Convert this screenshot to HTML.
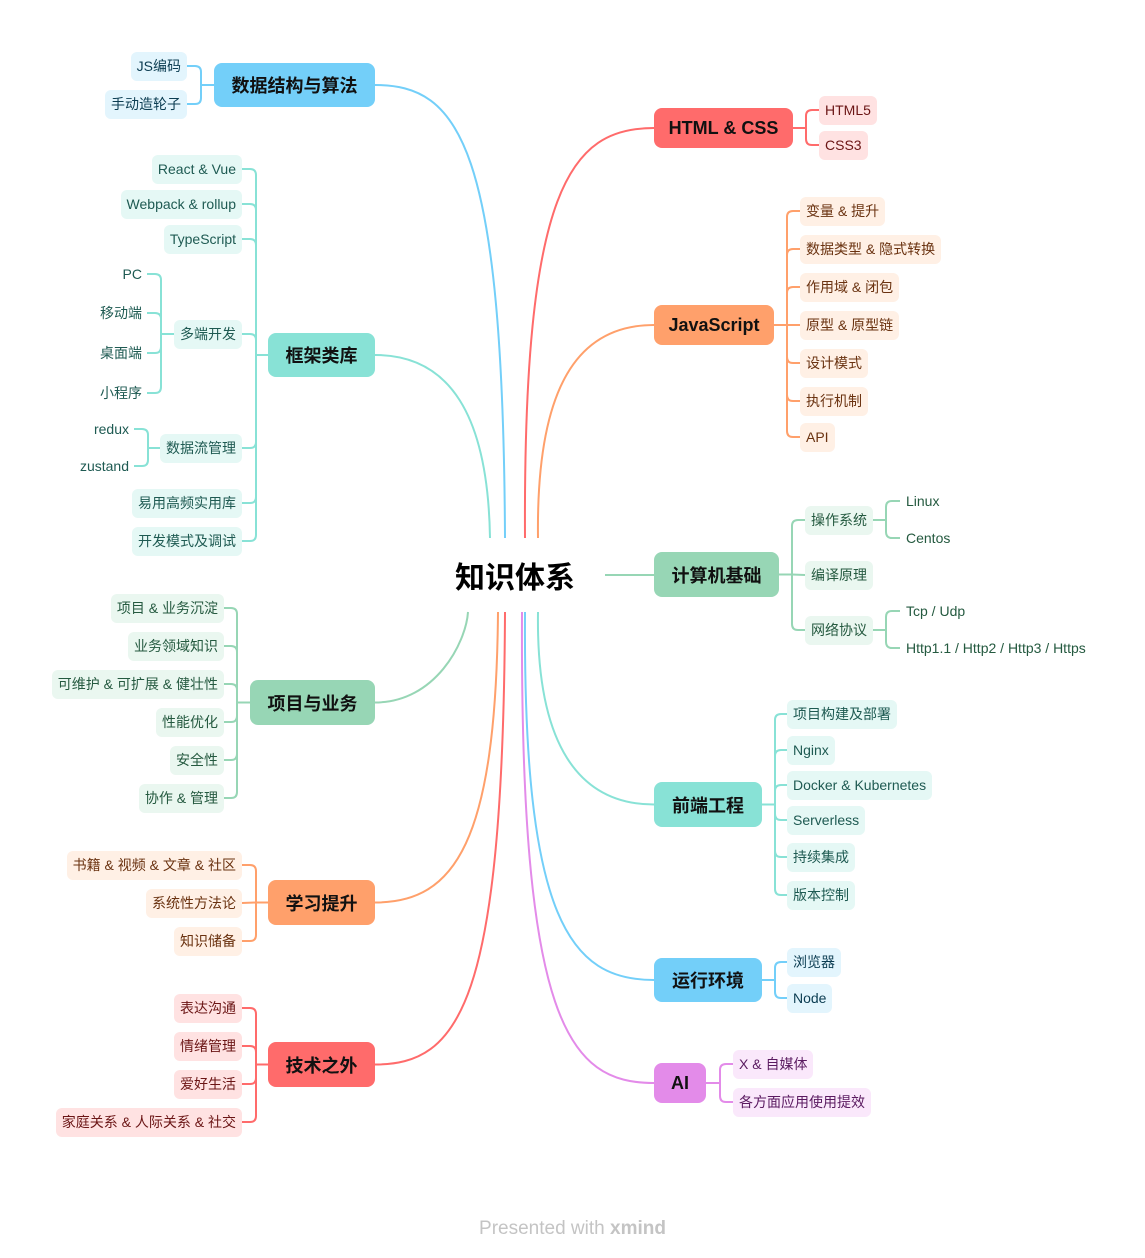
<!DOCTYPE html>
<html><head><meta charset="utf-8"><style>
body{margin:0;background:#fff;width:1145px;height:1258px;position:relative;overflow:hidden;font-family:"Liberation Sans","Noto Sans CJK SC",sans-serif}
svg{position:absolute;left:0;top:0}
.n{position:absolute;box-sizing:border-box;border-radius:8px;font-weight:bold;font-size:18px;color:#111;display:flex;align-items:center;justify-content:center;white-space:nowrap}
.c{position:absolute;box-sizing:border-box;height:29px;line-height:29px;border-radius:6px;padding:0 6px;font-size:14px;white-space:nowrap}
.t{position:absolute;font-size:14px;line-height:20px;white-space:nowrap}
</style></head><body>
<svg id="s" width="1145" height="1258"></svg>
<div style="position:absolute;left:415px;top:553px;width:200px;text-align:center;font-size:30px;font-weight:bold;color:#000;font-family:'Noto Sans CJK SC',sans-serif">知识体系</div>
<div style="position:absolute;left:0;width:1145px;top:1218px;text-align:center;font-size:19px;color:#c4c4c4">Presented with <b>xmind</b></div>
<script>
const C={blue:['#73cff9','#e3f5fd','#0c3d52'],teal:['#88e2d6','#e5f8f5','#1e5a52'],green:['#97d6b5','#eaf7f0','#255a40'],orange:['#ffa06b','#fff0e5','#6a3210'],red:['#ff6b6b','#ffe2e2','#6b1515'],purple:['#e38be9','#fae8fb','#5a1a60']};
const svg=document.getElementById('s');let P='';
function path(d,col){P+=`<path d="${d}" fill="none" stroke="${col}" stroke-width="2"/>`;}
function div(cls,st,txt){const e=document.createElement('div');e.className=cls;e.style.cssText=st;e.textContent=txt;document.body.appendChild(e);return e;}
function elbows(xb,pcy,items,dir,col){ // dir -1 left children, +1 right
 items.forEach(([cy,ex])=>{const r=Math.min(6,Math.abs(cy-pcy));
  if(Math.abs(cy-pcy)<1){path(`M${xb},${pcy} L${ex},${cy}`,col);return;}
  const s=cy>pcy?1:-1;
  path(`M${xb},${pcy} L${xb},${cy-s*r} Q${xb},${cy} ${xb+dir*r},${cy} L${ex},${cy}`,col);});
}
// main nodes: [text,x,y,w,h,color,side,children,bx,cx, start]
const M=[
['数据结构与算法',214,63,161,44,'blue','L',[['JS编码',66],['手动造轮子',104]],201,187,[505,538]],
['框架类库',268,333,107,44,'teal','L',[['React & Vue',169],['Webpack & rollup',204],['TypeScript',239],['多端开发',334,{b:161,ex:147,k:[['PC',274],['移动端',313],['桌面端',353],['小程序',393]]}],['数据流管理',448,{b:148,ex:134,k:[['redux',429],['zustand',466]]}],['易用高频实用库',503],['开发模式及调试',541]],256,242,[490,538]],
['项目与业务',250,680,125,45,'green','L',[['项目 & 业务沉淀',608],['业务领域知识',646],['可维护 & 可扩展 & 健壮性',684],['性能优化',722],['安全性',760],['协作 & 管理',798]],237,224,[468,612]],
['学习提升',268,880,107,45,'orange','L',[['书籍 & 视频 & 文章 & 社区',865],['系统性方法论',903],['知识储备',941]],256,242,[498,612]],
['技术之外',268,1042,107,45,'red','L',[['表达沟通',1008],['情绪管理',1046],['爱好生活',1084],['家庭关系 & 人际关系 & 社交',1122]],256,242,[505,612]],
['HTML & CSS',654,108,139,40,'red','R',[['HTML5',110],['CSS3',145]],806,819,[525,538]],
['JavaScript',654,305,120,40,'orange','R',[['变量 & 提升',211],['数据类型 & 隐式转换',249],['作用域 & 闭包',287],['原型 & 原型链',325],['设计模式',363],['执行机制',401],['API',437]],787,800,[538,538]],
['计算机基础',654,552,125,45,'green','R',[['操作系统',520,{b:886,ex:874,tx:906,k:[['Linux',501],['Centos',538]]}],['编译原理',575],['网络协议',630,{b:886,ex:874,tx:906,k:[['Tcp / Udp',611],['Http1.1 / Http2 / Http3 / Https',648]]}]],792,805,null],
['前端工程',654,782,108,45,'teal','R',[['项目构建及部署',714],['Nginx',750],['Docker & Kubernetes',785],['Serverless',820],['持续集成',857],['版本控制',895]],775,787,[538,612]],
['运行环境',654,958,108,44,'blue','R',[['浏览器',962],['Node',998]],775,787,[525,612]],
['AI',654,1063,52,40,'purple','R',[['X & 自媒体',1064],['各方面应用使用提效',1102]],720,733,[522,612]],
];
M.forEach(m=>{const [t,x,y,w,h,cn,side,ch,bx,cx,st]=m;const [mc,bg,tc]=C[cn];const cy=y+h/2;
 div('n',`left:${x}px;top:${y}px;width:${w}px;height:${h}px;background:${mc}`,t);
 const pe=side=='L'?x:x+w;
 if(st){const [sx,sy]=st;const ex=side=='L'?x+w:x;
   const up=cy<sy;
   path(`M${sx},${sy} C${sx+(up?-2:-2)},${cy+(up?60:-60)} ${sx+(ex-sx)*0.35},${cy} ${ex},${cy}`,mc);}
 else path(`M605,575 L654,575`,mc);
 path(`M${pe},${cy} L${bx},${cy}`,mc);
 const dir=side=='L'?-1:1;
 elbows(bx,cy,ch.map(c=>[c[1],cx]),dir,mc);
 ch.forEach(c=>{const [ct,ccy,sub]=c;
  const st2=`top:${ccy-14.5}px;background:${bg};color:${tc};`+(side=='L'?`right:${1145-cx}px`:`left:${cx}px`);
  const e=div('c',st2,ct);
  if(sub){
   if(side=='L'){ // child's left edge
     const le=cx-e.offsetWidth;
     path(`M${le},${ccy} L${sub.b},${ccy}`,mc);
     elbows(sub.b,ccy,sub.k.map(k=>[k[1],sub.ex]),-1,mc);
     sub.k.forEach(k=>div('t',`right:${1145-(sub.ex-5)}px;top:${k[1]-10}px;color:${tc}`,k[0]));
   } else {
     const re=cx+e.offsetWidth;
     path(`M${re},${ccy} L${sub.b},${ccy}`,mc);
     elbows(sub.b,ccy,sub.k.map(k=>[k[1],sub.tx-6]),1,mc);
     sub.k.forEach(k=>div('t',`left:${sub.tx}px;top:${k[1]-10}px;color:${tc}`,k[0]));
   }
  }
 });
});
svg.innerHTML=P;
</script>
</body></html>
